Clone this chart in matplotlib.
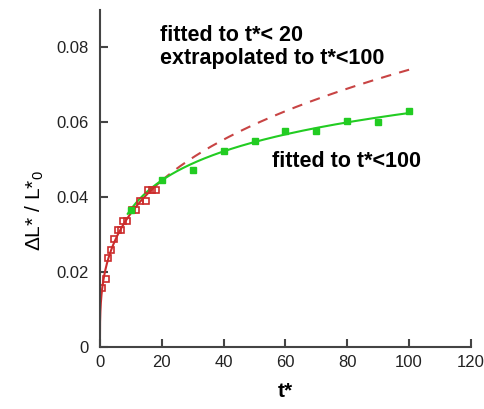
import numpy as np
import matplotlib
matplotlib.use('Agg')
import matplotlib.pyplot as plt

plt.rcParams['font.family'] = ['Liberation Sans', 'DejaVu Sans']
plt.rcParams['mathtext.fontset'] = 'custom'
plt.rcParams['mathtext.rm'] = 'Liberation Sans'
plt.rcParams['mathtext.it'] = 'Liberation Sans'

# short-time data (red open squares)
t_red = [0.6, 1.9, 2.7, 3.7, 4.6, 5.7, 6.8, 7.5, 8.7, 10.3, 11.7, 13.0, 14.8, 15.4, 16.7, 18.3]
y_red = [0.0157, 0.0181, 0.0237, 0.0259, 0.0288, 0.0312, 0.0312, 0.0337, 0.0337,
         0.0365, 0.0365, 0.0390, 0.0390, 0.0419, 0.0419, 0.0419]

# long-time data (green filled squares)
t_green = [10, 20, 30, 40, 50, 60, 70, 80, 90, 100]
y_green = [0.0365, 0.0445, 0.0472, 0.0523, 0.0549, 0.0576, 0.0576, 0.0603, 0.0601, 0.0629]

# fits: red  y = a * t**b ,  green  y = a + b*ln(t)
red_fit = (0.0172, 0.317)
green_fit = (0.0110, 0.01118)

red_col = '#cc2b2b'
green_col = '#22cc22'

fig = plt.figure(figsize=(4.85, 4.09), dpi=100)
ax = fig.add_axes([0.206, 0.1516, 0.765, 0.824])

t1 = np.linspace(0, 20, 400)
t2 = np.linspace(20, 100, 200)
t3 = np.linspace(9, 100, 200)
ax.plot(t1, red_fit[0] * t1 ** red_fit[1], color=red_col, lw=1.5)
ax.plot(t2, red_fit[0] * t2 ** red_fit[1], color='#c84444', lw=1.5, dashes=(5, 4))
ax.plot(t3, green_fit[0] + green_fit[1] * np.log(t3), color=green_col, lw=1.5)

ax.plot(t_red, y_red, 's', mfc='none', mec=red_col, mew=1.2, ms=4.5)
ax.plot(t_green, y_green, 's', color=green_col, ms=4.5)

ax.set_xlim(0, 120)
ax.set_ylim(0, 0.09)
ax.set_xticks(range(0, 121, 20))
ax.set_yticks([0, 0.02, 0.04, 0.06, 0.08])
ax.set_yticklabels(['0', '0.02', '0.04', '0.06', '0.08'])
ax.spines['top'].set_visible(False)
ax.spines['right'].set_visible(False)
for s in ['left', 'bottom']:
    ax.spines[s].set_linewidth(1.5)
    ax.spines[s].set_color('#444444')
ax.tick_params(direction='in', length=6, width=1.5, color='#444444',
               labelsize=12, labelcolor='#222222')
ax.tick_params(axis='x', pad=6)
ax.tick_params(axis='y', pad=8)

ax.set_xlabel('t*', fontsize=15, fontweight='bold')
ax.xaxis.set_label_coords(0.5, -0.105)
ax.set_ylabel(r'ΔL* / L*$_0$', fontsize=15)
ax.yaxis.set_label_coords(-0.145, 0.404)

ax.text(19.4, 0.0816, 'fitted to t*< 20', fontsize=15.5, fontweight='bold')
ax.text(19.4, 0.0757, 'extrapolated to t*<100', fontsize=15.5, fontweight='bold')
ax.text(55.7, 0.048, 'fitted to t*<100', fontsize=15.5, fontweight='bold')

fig.savefig('out.png', dpi=100)
